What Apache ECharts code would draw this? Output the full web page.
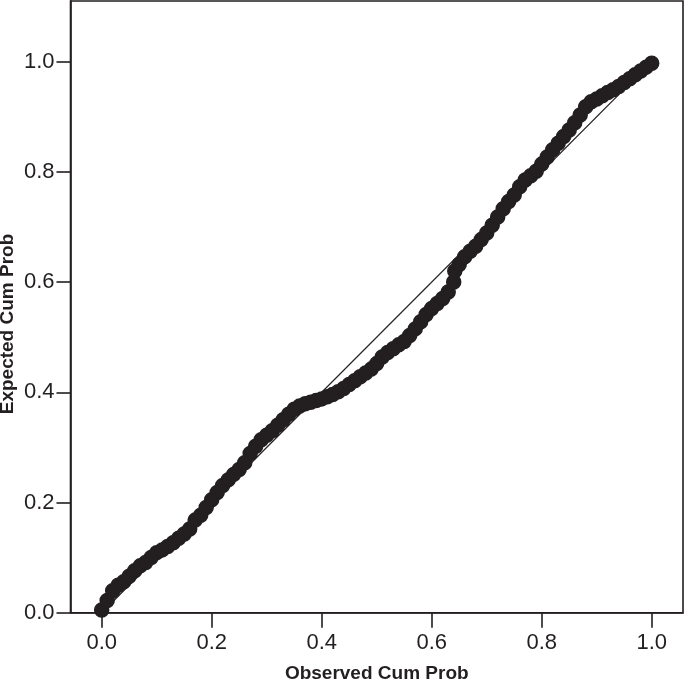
<!DOCTYPE html>
<html>
<head>
<meta charset="utf-8">
<script src="https://cdn.jsdelivr.net/npm/echarts@6/dist/echarts.min.js"></script>
<style>
html,body{margin:0;padding:0;background:#fff;}
#chart{width:685px;height:681px;}
</style>
</head>
<body>
<div id="chart"></div>
<script>
// Observed cumulative probability (x) and expected cumulative probability (y)
const observedCumProb = [
  0.00,0.01,0.02,0.03,0.04,0.05,0.06,0.07,0.08,0.09,
  0.10,0.11,0.12,0.13,0.14,0.15,0.16,0.17,0.18,0.19,
  0.20,0.21,0.22,0.23,0.24,0.25,0.26,0.27,0.28,0.29,
  0.30,0.31,0.32,0.33,0.34,0.35,0.36,0.37,0.38,0.39,
  0.40,0.41,0.42,0.43,0.44,0.45,0.46,0.47,0.48,0.49,
  0.50,0.51,0.52,0.53,0.54,0.55,0.56,0.57,0.58,0.59,
  0.60,0.61,0.62,0.63,0.64,0.642,0.65,0.66,0.67,0.68,0.69,
  0.70,0.71,0.72,0.73,0.74,0.75,0.76,0.77,0.78,0.79,
  0.80,0.81,0.82,0.83,0.84,0.85,0.86,0.87,0.88,0.89,
  0.90,0.91,0.92,0.93,0.94,0.95,0.96,0.97,0.98,0.99,1.00
];
const expectedCumProb = [
  0.005,0.022,0.040,0.050,0.056,0.066,0.076,0.085,0.091,0.100,
  0.109,0.114,0.120,0.127,0.135,0.143,0.152,0.168,0.177,0.191,
  0.205,0.218,0.231,0.241,0.251,0.260,0.272,0.289,0.302,0.314,
  0.322,0.330,0.340,0.350,0.360,0.369,0.375,0.379,0.382,0.385,
  0.388,0.392,0.396,0.401,0.407,0.414,0.421,0.428,0.435,0.442,
  0.452,0.464,0.472,0.479,0.486,0.492,0.503,0.515,0.528,0.541,
  0.552,0.561,0.570,0.582,0.600,0.620,0.632,0.646,0.656,0.665,0.677,
  0.689,0.703,0.718,0.733,0.746,0.758,0.773,0.785,0.793,0.801,
  0.814,0.827,0.840,0.852,0.864,0.876,0.889,0.903,0.918,0.927,
  0.932,0.938,0.944,0.949,0.955,0.962,0.969,0.976,0.983,0.990,0.997
];
// Diagonal reference line
const refLineX = [0, 1];
const refLineY = [0, 1];
// Tick labels
const xTicks = [0, 0.2, 0.4, 0.6, 0.8, 1.0];
const yTicks = [0, 0.2, 0.4, 0.6, 0.8, 1.0];
const xTitle = 'Observed Cum Prob';
const yTitle = 'Expected Cum Prob';

const ink = '#231f20';
const points = observedCumProb.map((x, i) => [x, expectedCumProb[i]]);
const refLine = refLineX.map((x, i) => [x, refLineY[i]]);

const chart = echarts.init(document.getElementById('chart'), null, {renderer: 'canvas'});
chart.setOption({
  backgroundColor: '#ffffff',
  animation: false,
  grid: {
    left: 70.5, top: 1, right: 2, bottom: 68.3,
    containLabel: false, outerBoundsMode: 'none',
    show: true, borderColor: ink, borderWidth: 1.6, backgroundColor: 'transparent'
  },
  graphic: [{
    type: 'text', x: 8, y: 324, rotation: Math.PI / 2,
    style: {
      text: yTitle, fill: ink, align: 'center', verticalAlign: 'middle',
      font: 'bold 19px "Liberation Sans"'
    }
  }],
  xAxis: {
    type: 'value', min: -0.0567, max: 1.0569,
    name: xTitle, nameLocation: 'middle', nameGap: 52,
    nameTextStyle: {fontFamily: 'Liberation Sans', fontWeight: 'bold', fontSize: 19, color: ink},
    splitLine: {show: false},
    axisLine: {show: true, onZero: false, lineStyle: {color: ink, width: 1.6}},
    axisTick: {show: true, length: 15, customValues: xTicks, lineStyle: {color: ink, width: 1.6}},
    axisLabel: {
      customValues: xTicks, margin: 19,
      fontFamily: 'Liberation Sans', fontSize: 22, color: ink,
      formatter: v => v.toFixed(1)
    }
  },
  yAxis: {
    type: 'value', min: 0, max: 1.110,
    splitLine: {show: false},
    axisLine: {show: true, onZero: false, lineStyle: {color: ink, width: 1.6}},
    axisTick: {show: true, length: 14, customValues: yTicks, lineStyle: {color: ink, width: 1.6}},
    axisLabel: {
      customValues: yTicks, margin: 16,
      fontFamily: 'Liberation Sans', fontSize: 22, color: ink,
      formatter: v => v.toFixed(1)
    }
  },
  series: [
    {
      type: 'line', data: refLine, symbol: 'none', silent: true,
      lineStyle: {color: ink, width: 1.3}, z: 1
    },
    {
      type: 'scatter', data: points, symbol: 'circle', symbolSize: 14,
      itemStyle: {color: ink, borderColor: ink, borderWidth: 1.5, opacity: 1}, z: 2
    }
  ]
});
</script>
</body>
</html>
